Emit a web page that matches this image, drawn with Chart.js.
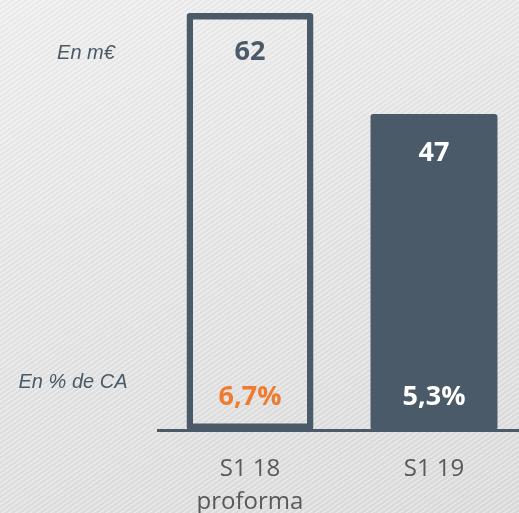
<!DOCTYPE html>
<html>
<head>
<meta charset="utf-8">
<script src="https://cdn.jsdelivr.net/npm/chart.js@4/dist/chart.umd.min.js"></script>
<style>
html,body{margin:0;padding:0;overflow:hidden;width:519px;height:513px;}
body{
  background:
    repeating-linear-gradient(-35deg, rgba(255,255,255,0.28) 0px, rgba(255,255,255,0.28) 1px, rgba(0,0,0,0.035) 2px, rgba(255,255,255,0) 4px),
    linear-gradient(160deg, #f0f0f0 0%, #e6e6e6 45%, #dddddd 100%);
}
#wrap{position:absolute;left:0;top:0;width:526px;height:513px;}
</style>
</head>
<body>
<div id="wrap"><canvas id="c" width="526" height="513"></canvas></div>
<script>
const categories = [["S1 18","proforma"], "S1 19"];
const values = [62, 47];
const valueLabels = ["62", "47"];
const marginLabels = ["6,7%", "5,3%"];
const unitLabels = ["En m€", "En % de CA"];

const SLATE = "#4a5a68";
const ORANGE = "#ef7b31";

const labelPlugin = {
  id: "labels",
  afterDatasetsDraw(chart) {
    const ctx = chart.ctx;
    const meta = chart.getDatasetMeta(0);
    const y0 = chart.scales.y.getPixelForValue(0);
    ctx.save();
    ctx.textAlign = "center";
    ctx.textBaseline = "middle";
    meta.data.forEach((bar, i) => {
      ctx.font = "bold 27px 'Open Sans'";
      ctx.fillStyle = i === 0 ? SLATE : "#ffffff";
      ctx.fillText(valueLabels[i], bar.x, bar.y + 39);
      ctx.fillStyle = i === 0 ? ORANGE : "#ffffff";
      ctx.fillText(marginLabels[i], bar.x, y0 - 33);
    });
    ctx.font = "italic 20px 'Liberation Sans'";
    ctx.fillStyle = SLATE;
    const first = meta.data[0];
    ctx.fillText(unitLabels[0], 86, first.y + 40);
    ctx.fillText(unitLabels[1], 73, y0 - 48);
    ctx.restore();
  }
};

new Chart(document.getElementById("c"), {
  type: "bar",
  data: {
    labels: categories,
    datasets: [{
      data: values,
      backgroundColor: ["rgba(0,0,0,0)", SLATE],
      borderColor: [SLATE, SLATE],
      borderWidth: [6.5, 0],
      borderSkipped: false,
      borderRadius: 3,
      categoryPercentage: 1,
      barPercentage: 0.69
    }]
  },
  options: {
    responsive: false,
    animation: false,
    devicePixelRatio: 1,
    layout: { padding: { top: 13, left: 158, right: 0, bottom: 0 } },
    plugins: { legend: { display: false }, tooltip: { enabled: false } },
    scales: {
      y: { display: false, min: 0, max: 62 },
      x: {
        grid: { display: false, drawTicks: false },
        border: { display: true, color: SLATE, width: 3 },
        ticks: {
          color: "#595959",
          font: { family: "'Open Sans'", size: 24, lineHeight: 1.4 },
          padding: 22
        },
        afterFit(scale) { scale.height = 83; }
      }
    }
  },
  plugins: [labelPlugin]
});
</script>
</body>
</html>
